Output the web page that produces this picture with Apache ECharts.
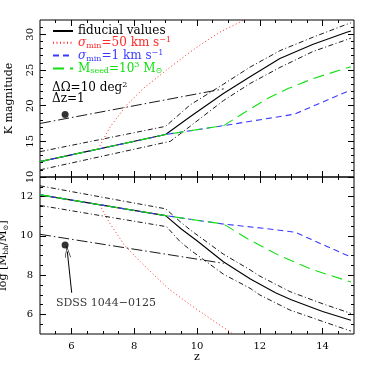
<!DOCTYPE html>
<html><head><meta charset="utf-8">
<script src="https://cdn.jsdelivr.net/npm/echarts@6/dist/echarts.min.js"></script>
<style>html,body{margin:0;padding:0;background:#fff}#c{width:374px;height:374px}</style>
</head><body><div id="c"></div>
<script>
// ---------- data: top panel (K magnitude vs z) ----------
const kFidZ = [5, 9, 9.78, 10.84, 11.69, 12.64, 13.7, 14.77, 14.9];
const kFid  = [12.15, 15.95, 18.45, 21.7, 24.05, 26.6, 28.6, 30.27, 30.45];
const kHiZ  = [5, 9, 9.78, 10.84, 11.69, 12.64, 13.7, 14.77, 14.9];
const kHi   = [13.55, 17.1, 20.1, 23.0, 25.4, 27.7, 29.6, 31.4, 31.6];
const kLoZ  = [5, 9.15, 9.78, 10.84, 11.69, 12.64, 13.7, 14.77, 14.9];
const kLo   = [11.0, 15.0, 17.1, 20.7, 23.1, 25.35, 27.6, 29.25, 29.45];
const kObjLineZ = [5, 10.85];
const kObjLine  = [17.5, 22.35];
const kRedZ = [6.85, 7.23, 7.76, 8.29, 9.03, 9.78, 10.1, 10.73, 11.5];
const kRed  = [13.9, 17.0, 20.1, 22.4, 25.0, 27.5, 28.5, 30.3, 32.0];
const kBlueZ = [5, 9, 10.85, 13.1, 14.9];
const kBlue  = [12.15, 15.95, 17.2, 18.8, 22.2];
const kGreenZ = [5, 9, 10.85, 11.5, 12.2, 12.9, 13.7, 14.9];
const kGreen  = [12.15, 15.95, 17.2, 19.0, 20.9, 22.4, 23.8, 25.45];

// ---------- data: bottom panel (log Mbh vs z) ----------
const mFidZ = [5, 9, 9.5, 10, 10.84, 11.7, 12.5, 13, 14, 14.9];
const mFid  = [12.09, 11.03, 10.35, 9.75, 8.68, 7.8, 7.1, 6.75, 6.15, 5.7];
const mHiZ  = [5, 9, 9.46, 9.78, 10.84, 11.69, 12, 12.96, 14.02, 14.9];
const mHi   = [12.55, 11.38, 10.73, 10.31, 9.07, 8.27, 7.95, 7.16, 6.53, 6.05];
const mLoZ  = [5, 9.03, 9.46, 9.78, 10.84, 11.69, 12, 12.96, 14.02, 14.9];
const mLo   = [11.55, 10.47, 9.71, 9.29, 8.05, 7.33, 6.99, 6.22, 5.63, 5.15];
const mObjLineZ = [5, 10.85];
const mObjLine  = [10.08, 8.6];
const mRedZ = [6.9, 7.2, 7.7, 8.2, 8.6, 9.1, 9.5, 10, 10.5, 11.15];
const mRed  = [11.58, 10.7, 9.5, 8.68, 8.05, 7.3, 6.82, 6.25, 5.7, 5.0];
const mBlueZ = [5, 9, 10.85, 12.1, 13.12, 14.9];
const mBlue  = [12.09, 11.03, 10.6, 10.39, 10.19, 8.92];
const mGreenZ = [5, 9, 10.85, 11.58, 12.64, 13.7, 14.9];
const mGreen  = [12.09, 11.03, 10.6, 9.88, 8.98, 8.27, 7.65];

// observed object SDSS 1044-0125
const objZ = [5.8];
const objK = [18.75];
const objM = [9.53];
const arrowFrom = [6.01, 7.1];
const arrowTo = [5.87, 9.2];
const objLabelPos = [7.1, 6.57];
const objLabel = 'SDSS 1044\u22120125';

// ---------- ticks ----------
const zRange = [5, 15], kRange = [10, 32], mRange = [5, 13];
const zMajor = [6, 8, 10, 12, 14];
const zMinor = [5.5, 6, 6.5, 7, 7.5, 8, 8.5, 9, 9.5, 10, 10.5, 11, 11.5, 12, 12.5, 13, 13.5, 14, 14.5];
const kMajor = [10, 15, 20, 25, 30];
const kMinor = [11, 12, 13, 14, 16, 17, 18, 19, 21, 22, 23, 24, 26, 27, 28, 29, 31];
const mMajor = [6, 8, 10, 12];
const mMinor = [5.5, 6, 6.5, 7, 7.5, 8, 8.5, 9, 9.5, 10, 10.5, 11, 11.5, 12, 12.5];

const FONT = 'DejaVu Serif';
const MAJ = 6, MIN = 3;

function axis(grid, pos, range, ticks, len, label, extra) {
  const a = {
    type: 'value', gridIndex: grid, position: pos, min: range[0], max: range[1],
    axisLine: { show: false }, splitLine: { show: false },
    axisTick: { show: true, inside: true, length: len, customValues: ticks, lineStyle: { color: '#000', width: 1 } },
    axisLabel: label ? Object.assign({ show: true, customValues: ticks, color: '#000', fontFamily: FONT, fontSize: 10 }, label) : { show: false },
    axisPointer: { show: false }
  };
  return extra ? Object.assign(a, extra) : a;
}

const rich = {
  m: { fontFamily: FONT, fontSize: 12, lineHeight: 14 },
  g: { fontFamily: FONT, fontSize: 12, fontStyle: 'italic', lineHeight: 14 },
  sb: { fontFamily: FONT, fontSize: 8, lineHeight: 5, verticalAlign: 'bottom' },
  sp: { fontFamily: FONT, fontSize: 8, lineHeight: 6, verticalAlign: 'top' }
};
const nameRich = {
  m: { fontFamily: FONT, fontSize: 11, lineHeight: 13 },
  sb: { fontFamily: FONT, fontSize: 7, lineHeight: 5, verticalAlign: 'bottom' }
};

const xAxes = [
  axis(0, 'bottom', zRange, zMajor, MAJ, null),
  axis(0, 'bottom', zRange, zMinor, MIN, null),
  axis(0, 'top', zRange, zMajor, MAJ, null),
  axis(0, 'top', zRange, zMinor, MIN, null),
  axis(1, 'bottom', zRange, zMajor, MAJ, { margin: 7 }, {
    name: 'z', nameLocation: 'middle', nameGap: 16,
    nameTextStyle: { fontFamily: FONT, fontSize: 11, color: '#000' }
  }),
  axis(1, 'bottom', zRange, zMinor, MIN, null),
  axis(1, 'top', zRange, zMajor, MAJ, null),
  axis(1, 'top', zRange, zMinor, MIN, null)
];
const yAxes = [
  axis(0, 'left', kRange, kMajor, MAJ, { rotate: 90, margin: 5 }, {
    name: 'K magnitude', nameLocation: 'middle', nameGap: 25, nameRotate: 90,
    nameTextStyle: { fontFamily: FONT, fontSize: 11, color: '#000' }
  }),
  axis(0, 'left', kRange, kMinor, MIN, null),
  axis(0, 'right', kRange, kMajor, MAJ, null),
  axis(0, 'right', kRange, kMinor, MIN, null),
  axis(1, 'left', mRange, mMajor, MAJ, { margin: 7 }, {
    name: '{m|log [M}{sb|bh}{m|/M}{sb|\u2299}{m|]}', nameLocation: 'middle', nameGap: 25, nameRotate: 90,
    nameTextStyle: { fontFamily: FONT, fontSize: 11, color: '#000', rich: nameRich }
  }),
  axis(1, 'left', mRange, mMinor, MIN, null),
  axis(1, 'right', mRange, mMajor, MAJ, null),
  axis(1, 'right', mRange, mMinor, MIN, null)
];

function pts(zs, vs) { return zs.map((z, i) => [z, vs[i]]); }
function line(name, g, zs, vs, color, type, width) {
  return {
    type: 'line', name: name, xAxisIndex: g ? 4 : 0, yAxisIndex: g ? 4 : 0,
    data: pts(zs, vs), showSymbol: false, symbol: 'none', silent: true,
    lineStyle: { color: color, width: width, type: type }, itemStyle: { color: color },
    emphasis: { disabled: true }, animation: false, clip: true
  };
}

const BLACK = '#000', RED = '#ff2a2a', BLUE = '#3a3aff', GREEN = '#10e010';
const DASHDOT = [5, 2.5, 1, 2.5], LONGDD = [11, 3, 1.5, 3], DOT = [1, 2.5], DASH = [6, 4], LDASH = [11, 6];

const series = [
  line('fid', 0, kFidZ, kFid, BLACK, 'solid', 1.1),
  line('hi', 0, kHiZ, kHi, BLACK, DASHDOT, 0.9),
  line('lo', 0, kLoZ, kLo, BLACK, DASHDOT, 0.9),
  line('obj', 0, kObjLineZ, kObjLine, BLACK, LONGDD, 0.9),
  line('sig50', 0, kRedZ, kRed, RED, DOT, 1),
  line('sig1', 0, kBlueZ, kBlue, BLUE, DASH, 1.1),
  line('mseed', 0, kGreenZ, kGreen, GREEN, LDASH, 1.1),
  line('fid', 1, mFidZ, mFid, BLACK, 'solid', 1.1),
  line('hi', 1, mHiZ, mHi, BLACK, DASHDOT, 0.9),
  line('lo', 1, mLoZ, mLo, BLACK, DASHDOT, 0.9),
  line('obj', 1, mObjLineZ, mObjLine, BLACK, LONGDD, 0.9),
  line('sig50', 1, mRedZ, mRed, RED, DOT, 1),
  line('sig1', 1, mBlueZ, mBlue, BLUE, DASH, 1.1),
  line('mseed', 1, mGreenZ, mGreen, GREEN, LDASH, 1.1),
  {
    type: 'scatter', name: 'objK', xAxisIndex: 0, yAxisIndex: 0, data: pts(objZ, objK),
    symbolSize: 7, itemStyle: { color: '#000' }, silent: true, animation: false
  },
  {
    type: 'scatter', name: 'objM', xAxisIndex: 4, yAxisIndex: 4, data: pts(objZ, objM),
    symbolSize: 7, itemStyle: { color: '#000' }, silent: true, animation: false,
    markLine: {
      silent: true, animation: false,
      symbol: ['none', 'path://M5,0 L10,12 L9,12 L5,2.5 L1,12 L0,12 Z'], symbolSize: [6, 12],
      lineStyle: { color: '#000', width: 1, type: 'solid' }, label: { show: false },
      data: [[{ coord: arrowFrom }, { coord: arrowTo }]]
    }
  },
  {
    type: 'scatter', name: 'objLabel', xAxisIndex: 4, yAxisIndex: 4, data: [objLabelPos],
    symbolSize: 1, itemStyle: { color: 'rgba(0,0,0,0)' }, silent: true, animation: false,
    label: { show: true, position: 'inside', formatter: objLabel, fontFamily: FONT, fontSize: 11, color: '#000' }
  }
];

const chart = echarts.init(document.getElementById('c'), null, { renderer: 'canvas' });
chart.setOption({
  animation: false,
  backgroundColor: '#fff',
  grid: [
    { left: 40, right: 20, top: 20, height: 157, show: true, borderColor: '#000', borderWidth: 1, containLabel: false, outerBoundsMode: 'none' },
    { left: 40, right: 20, top: 177, height: 157, show: true, borderColor: '#000', borderWidth: 1, containLabel: false, outerBoundsMode: 'none' }
  ],
  xAxis: xAxes,
  yAxis: yAxes,
  legend: {
    show: true, orient: 'vertical', left: 52, top: 25, padding: 0,
    itemWidth: 20, itemHeight: 10, itemGap: -1.2, selectedMode: false,
    itemStyle: { opacity: 0, borderWidth: 0 },
    data: [
      { name: 'fid', textStyle: { color: BLACK } },
      { name: 'sig50', textStyle: { color: RED } },
      { name: 'sig1', textStyle: { color: BLUE } },
      { name: 'mseed', textStyle: { color: GREEN } }
    ],
    formatter: function (n) {
      return {
        fid: '{m|fiducial values}',
        sig50: '{g|\u03c3}{sb|min}{m|=50 km s}{sp|\u22121}',
        sig1: '{g|\u03c3}{sb|min}{m|=1 km s}{sp|\u22121}',
        mseed: '{m|M}{sb|seed}{m|=10}{sp|3}{m| M}{sb|\u2299}'
      }[n];
    },
    textStyle: { fontFamily: FONT, fontSize: 12, rich: rich }
  },
  graphic: [
    { type: 'text', left: 52, top: 81, silent: true,
      style: { text: '{m|\u0394\u03a9=10 deg}{sp|2}', fill: '#000', rich: rich } },
    { type: 'text', left: 52, top: 93, silent: true,
      style: { text: '{m|\u0394z=1}', fill: '#000', rich: rich } }
  ],
  series: series
});
</script>
</body></html>
